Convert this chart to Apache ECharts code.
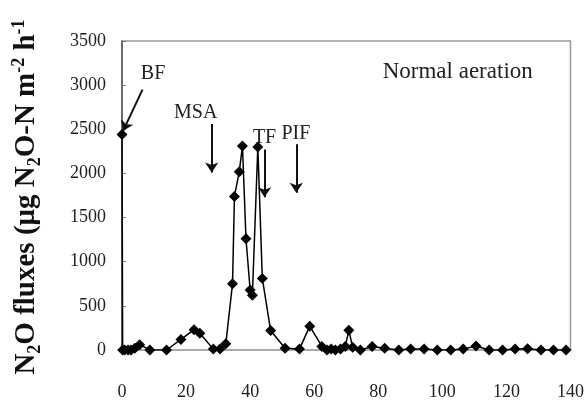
<!DOCTYPE html>
<html><head><meta charset="utf-8">
<script src="https://cdn.jsdelivr.net/npm/echarts@6/dist/echarts.min.js"></script>
<style>html,body{margin:0;padding:0;background:#fff}#c{width:587px;height:403px}</style>
</head><body><div id="c"></div>
<script>
// Days after transplanting (x) and N2O flux (y)
const days = [0, 0.2, 0.8, 1.9, 2.8, 4, 5.5, 8.7, 13.9, 18.4, 22.5, 24.3, 28.5, 30.6, 32.4, 34.5, 35.1, 36.6, 37.6, 38.7, 40, 40.7, 42.4, 43.8, 46.4, 50.9, 55.4, 58.6, 62.4, 64, 65.3, 66.6, 68.2, 69.7, 70.8, 72, 74.4, 78.1, 82, 86.4, 90.1, 94.3, 98.4, 102.6, 106.5, 110.5, 114.6, 118.8, 122.7, 126.6, 130.8, 134.7, 138.6];
const flux = [2440, 0, 0, 0, 0, 20, 60, 0, 0, 120, 230, 190, 10, 10, 70, 750, 1740, 2020, 2310, 1260, 680, 620, 2300, 810, 220, 20, 10, 270, 40, 0, 10, 0, 10, 40, 225, 30, 0, 40, 20, 0, 10, 10, 0, 0, 10, 45, 0, 0, 10, 15, 0, 0, 0];
const yTicks = [0, 500, 1000, 1500, 2000, 2500, 3000, 3500];
const xTicks = [0, 20, 40, 60, 80, 100, 120, 140];
// Annotations: label, text position [day, flux], arrow start, arrow end
const notes = [
  {name: 'BF', text: [9.7, 3130], from: [6.4, 2950], to: [0.3, 2480]},
  {name: 'MSA', text: [23, 2690], from: [28, 2560], to: [28, 2010]},
  {name: 'TF', text: [44.5, 2400], from: [44.5, 2270], to: [44.5, 1730]},
  {name: 'PIF', text: [54.3, 2450], from: [54.4, 2330], to: [54.4, 1780]}
];
const panelLabel = {text: 'Normal aeration', pos: [104.8, 3150]};
const yTitle = '{b|N}{s|2}{b|O fluxes (μg N}{s|2}{b|O-N m}{p|-2}{b| h}{p|-1}';

const font = 'Liberation Serif';
const chart = echarts.init(document.getElementById('c'));
const data = days.map((d, i) => [d, flux[i]]);
chart.setOption({
  animation: false,
  grid: {left: 122, right: 16, top: 41, bottom: 53, show: true, borderColor: '#9a9a9a', borderWidth: 1.5},
  xAxis: {
    type: 'value', min: xTicks[0], max: xTicks[xTicks.length - 1], interval: 20,
    axisLine: {lineStyle: {color: '#aaa', width: 2}},
    axisTick: {show: false},
    splitLine: {show: false},
    axisLabel: {margin: 33, fontFamily: font, fontSize: 18, color: '#222', formatter: v => String(v)}
  },
  yAxis: {
    type: 'value', min: yTicks[0], max: yTicks[yTicks.length - 1], interval: 500,
    axisLine: {show: true, lineStyle: {color: '#555', width: 1.5}},
    axisTick: {show: true, inside: true, length: 4, lineStyle: {color: '#777'}},
    splitLine: {show: false},
    axisLabel: {margin: 16, fontFamily: font, fontSize: 18, color: '#222', formatter: v => String(v)}
  },
  graphic: [{
    type: 'text', x: 27, y: 197, rotation: Math.PI / 2,
    style: {
      text: yTitle, align: 'center', verticalAlign: 'middle',
      rich: {
        b: {fontFamily: font, fontWeight: 'bold', fontSize: 29, fill: '#111', lineHeight: 34, verticalAlign: 'middle'},
        s: {fontFamily: font, fontWeight: 'bold', fontSize: 18, fill: '#111', lineHeight: 34, verticalAlign: 'bottom'},
        p: {fontFamily: font, fontWeight: 'bold', fontSize: 18, fill: '#111', lineHeight: 34, verticalAlign: 'top'}
      }
    }
  }],
  series: [{
    type: 'line', data: data,
    symbol: 'diamond', symbolSize: 11,
    itemStyle: {color: '#000'},
    lineStyle: {color: '#000', width: 1.5},
    markLine: {
      silent: true, symbol: ['none', 'arrow'], symbolSize: 10,
      lineStyle: {color: '#111', width: 2, type: 'solid'},
      label: {show: false},
      data: notes.map(n => [{coord: n.from}, {coord: n.to}])
    },
    markPoint: {
      silent: true, symbol: 'circle', symbolSize: 1,
      itemStyle: {color: 'rgba(0,0,0,0)'},
      label: {show: true, position: 'inside', fontFamily: font, fontSize: 20, color: '#222'},
      data: notes.map(n => ({coord: n.text, value: n.name, label: {formatter: n.name}}))
        .concat([{coord: panelLabel.pos, value: panelLabel.text, label: {formatter: panelLabel.text, fontSize: 23}}])
    }
  }]
});
</script></body></html>
